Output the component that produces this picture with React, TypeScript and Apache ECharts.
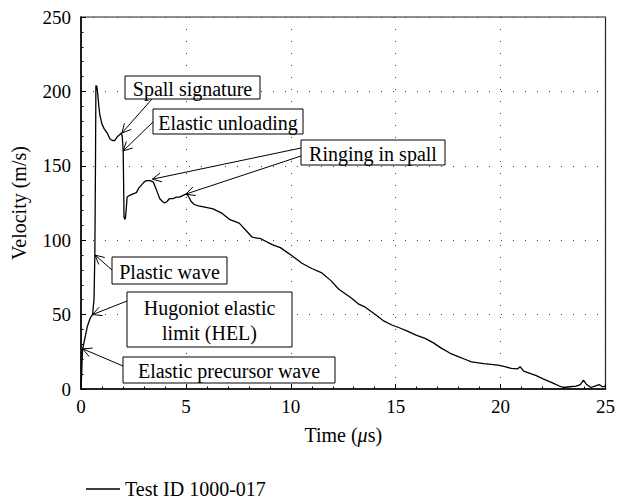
import React, { useEffect, useRef } from 'react';
import * as echarts from 'echarts';

// Free-surface velocity record, test ID 1000-017
const timeUs = [
  0, 0.03, 0.06, 0.08, 0.2, 0.3, 0.45, 0.55, 0.62, 0.66, 0.69, 0.71, 0.76, 0.8, 0.85, 0.9,
  1.0, 1.1, 1.25, 1.38, 1.5, 1.61, 1.7, 1.77, 1.85, 1.92, 1.96, 1.99, 2.01, 2.03, 2.05, 2.08,
  2.12, 2.15, 2.2, 2.3, 2.45, 2.64, 2.75, 2.88, 3.0, 3.12, 3.3, 3.45, 3.59, 3.75, 3.88, 3.98,
  4.1, 4.22, 4.4, 4.54, 4.7, 4.84, 5.0, 5.1, 5.25, 5.4, 5.6, 5.96, 6.3, 6.73, 7.07, 7.54,
  7.9, 8.16, 8.57, 9.11, 9.5, 9.91, 10.2, 10.53, 11.0, 11.48, 11.9, 12.29, 12.9, 13.24, 13.55,
  14.03, 14.4, 14.82, 15.2, 15.61, 16.0, 16.4, 16.8, 17.19, 17.6, 17.98, 18.3, 18.61, 19.2,
  19.88, 20.2, 20.51, 20.8, 20.93, 21.1, 21.3, 21.7, 22.0, 22.5, 22.8, 23.0, 23.3, 23.6, 23.8,
  23.95, 24.1, 24.3, 24.5, 24.7, 24.85, 25,
];
const velocity = [
  0, 10, 22, 27, 35, 42, 48, 50, 60, 90, 150, 204, 203, 198, 190, 184,
  178, 175, 172, 168, 167, 167, 169, 170, 171, 172, 170, 165, 160, 140, 116, 114,
  115, 120, 129, 130, 131, 132, 135, 137, 139, 140, 140, 139, 134, 128, 126, 125,
  126, 128, 128, 129, 129, 130, 131, 130, 126, 124, 123, 122, 121, 118, 114, 111.5,
  106, 102, 101, 97, 95, 91, 88, 84.5, 81, 78, 73, 67, 61, 57, 55,
  50, 46, 43, 41, 38.5, 36, 34, 31, 27.3, 24, 21.7, 20, 18.3, 17,
  16, 15, 13.9, 13.5, 15, 12, 11, 9, 7, 4, 2, 1, 1.5, 2, 3,
  6, 3, 1, 2, 3, 1.5, 2,
];

const xTickValues = [0, 5, 10, 15, 20, 25];
const yTickValues = [0, 50, 100, 150, 200, 250];

// Callout texts and the (time, velocity) points their arrows point at
const calloutLabels = [
  'Spall signature',
  'Elastic unloading',
  'Ringing in spall',
  'Plastic wave',
  'Hugoniot elastic\nlimit (HEL)',
  'Elastic precursor wave',
];
const calloutTargets: number[][][] = [
  [[1.95, 172]],
  [[2.01, 160]],
  [[3.4, 141], [5.0, 131]],
  [[0.67, 90]],
  [[0.55, 50]],
  [[0.08, 27]],
];

// Box placement (px) and arrow start points on the box edge
const calloutBoxes = [
  { x: 125, y: 76, w: 135, h: 23, from: [[152, 99]] },
  { x: 153, y: 109, w: 150, h: 25, from: [[153, 122]] },
  { x: 301, y: 140, w: 144, h: 25, from: [[301, 148], [301, 156]] },
  { x: 112, y: 257, w: 115, h: 27, from: [[112, 270]] },
  { x: 127, y: 292, w: 165, h: 55, from: [[127, 301]] },
  { x: 123, y: 357, w: 212, h: 26, from: [[123, 366]] },
];

const SERIF = 'Liberation Serif';

export default function App() {
  const ref = useRef<HTMLDivElement>(null);

  useEffect(() => {
    const chart = echarts.init(ref.current!, null, { renderer: 'svg' });
    const seriesName = 'Test ID 1000-017';
    chart.setOption({
      animation: false,
      backgroundColor: '#fff',
      textStyle: { fontFamily: SERIF, color: '#000' },
      grid: {
        left: 81, right: 10, top: 17, bottom: 112,
        show: true, borderColor: '#222', borderWidth: 1.2,
      },
      legend: {
        data: [{ name: seriesName, icon: 'rect' }],
        left: 81, top: 474,
        itemWidth: 34, itemHeight: 1.3, itemGap: 12,
        textStyle: { fontFamily: SERIF, fontSize: 20, color: '#000' },
      },
      xAxis: {
        type: 'value',
        min: xTickValues[0], max: xTickValues[xTickValues.length - 1], interval: 5,
        name: 'Time ({i|μ}s)', nameLocation: 'middle', nameGap: 36,
        nameTextStyle: {
          fontFamily: SERIF, fontSize: 20, color: '#000',
          rich: { i: { fontFamily: SERIF, fontSize: 20, fontStyle: 'italic', color: '#000' } },
        },
        axisLine: { onZero: false, lineStyle: { color: '#000', width: 1.5 } },
        axisTick: { inside: true, length: 5, lineStyle: { color: '#000' } },
        minorTick: { show: true, splitNumber: 5, length: 2.5, lineStyle: { color: '#000' } },
        axisLabel: { fontFamily: SERIF, fontSize: 19, color: '#000', margin: 8 },
        splitLine: { show: true, lineStyle: { color: '#444', type: [1, 11], width: 1 } },
      },
      yAxis: {
        type: 'value',
        min: yTickValues[0], max: yTickValues[yTickValues.length - 1], interval: 50,
        name: 'Velocity (m/s)', nameLocation: 'middle', nameGap: 52,
        nameTextStyle: { fontFamily: SERIF, fontSize: 20, color: '#000' },
        axisLine: { show: true, onZero: false, lineStyle: { color: '#000', width: 1.5 } },
        axisTick: { show: true, inside: true, length: 5, lineStyle: { color: '#000' } },
        minorTick: { show: true, splitNumber: 5, length: 2.5, lineStyle: { color: '#000' } },
        axisLabel: { fontFamily: SERIF, fontSize: 19, color: '#000', margin: 10 },
        splitLine: { show: true, lineStyle: { color: '#444', type: [1, 11], width: 1 } },
      },
      series: [
        {
          type: 'line',
          name: seriesName,
          data: timeUs.map((t, i) => [t, velocity[i]]),
          symbol: 'none',
          lineStyle: { color: '#000', width: 1.3 },
          itemStyle: { color: '#000' },
        },
      ],
    });

    // Callout boxes with open-headed arrows
    const graphics: any[] = [];
    const headLen = 10;
    const headAngle = (27 * Math.PI) / 180;
    calloutLabels.forEach((label, k) => {
      const box = calloutBoxes[k];
      calloutTargets[k].forEach((target, j) => {
        const tip = chart.convertToPixel({ gridIndex: 0 }, target) as number[];
        const start = box.from[j];
        const dx = start[0] - tip[0];
        const dy = start[1] - tip[1];
        const len = Math.hypot(dx, dy);
        const ux = dx / len;
        const uy = dy / len;
        const rot = (a: number) => [
          tip[0] + headLen * (ux * Math.cos(a) - uy * Math.sin(a)),
          tip[1] + headLen * (ux * Math.sin(a) + uy * Math.cos(a)),
        ];
        graphics.push({
          type: 'line', z: 10,
          shape: { x1: start[0], y1: start[1], x2: tip[0], y2: tip[1] },
          style: { stroke: '#000', lineWidth: 1 },
        });
        graphics.push({
          type: 'polyline', z: 10,
          shape: { points: [rot(headAngle), tip, rot(-headAngle)] },
          style: { stroke: '#000', lineWidth: 1, fill: 'none' },
        });
      });
      graphics.push({
        type: 'rect', z: 11,
        shape: { x: box.x, y: box.y, width: box.w, height: box.h },
        style: { fill: '#fff', stroke: '#000', lineWidth: 1 },
      });
      graphics.push({
        type: 'text', z: 12,
        x: box.x + box.w / 2, y: box.y + box.h / 2 + 1,
        style: {
          text: label, fill: '#000', fontFamily: SERIF, fontSize: 20,
          align: 'center', verticalAlign: 'middle', lineHeight: 25,
        },
      });
    });
    chart.setOption({ graphic: graphics });

    return () => chart.dispose();
  }, []);

  return (
    <div
      ref={ref}
      style={{ position: 'fixed', left: 0, top: 0, width: 618, height: 501 }}
    />
  );
}
